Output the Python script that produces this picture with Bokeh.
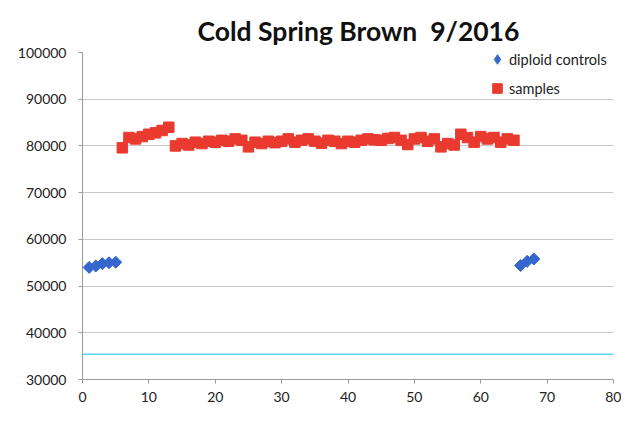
import math
from bokeh.plotting import figure
from bokeh.models import Legend, LegendItem, Span, FixedTicker, Range1d, Title
from bokeh.embed import file_html
from bokeh.resources import INLINE

# ---- data ----
control_x = [1, 2, 3, 4, 5, 66, 67, 68]
control_y = [54000, 54300, 54800, 55000, 55100, 54400, 55300, 55800]

sample_x = [6, 7, 8, 9, 10, 11, 12, 13, 14, 15,
            16, 17, 18, 19, 20, 21, 22, 23, 24, 25,
            26, 27, 28, 29, 30, 31, 32, 33, 34, 35,
            36, 37, 38, 39, 40, 41, 42, 43, 44, 45,
            46, 47, 48, 49, 50, 51, 52, 53, 54, 55,
            56, 57, 58, 59, 60, 61, 62, 63, 64, 65]
sample_y = [79600, 81800, 81500, 82000, 82500, 82800, 83300, 84000, 80000, 80500,
            80200, 80800, 80500, 81000, 80800, 81200, 81000, 81500, 81200, 79800,
            80800, 80500, 81000, 80700, 81000, 81500, 80800, 81200, 81500, 81000,
            80600, 81200, 81000, 80500, 81000, 80800, 81200, 81500, 81300, 81200,
            81600, 81800, 81200, 80300, 81500, 81800, 81000, 81500, 79800, 80500,
            80200, 82500, 81800, 80800, 82000, 81500, 81800, 80800, 81500, 81200]

title_text = "Cold Spring Brown \u00a09/2016"
x_ticks = [0, 10, 20, 30, 40, 50, 60, 70, 80]
y_ticks = [30000, 40000, 50000, 60000, 70000, 80000, 90000, 100000]

BLUE = "#3567cf"
RED = "#ea3a2f"
FONT = "Lato"

p = figure(width=621, height=418, output_backend="svg", toolbar_location=None,
           x_range=Range1d(0, 80), y_range=Range1d(30000, 100000),
           min_border_left=82, min_border_right=8, min_border_top=52, min_border_bottom=39,
           title=None)
p.outline_line_color = None
p.background_fill_color = "white"
p.border_fill_color = "white"

# title
t = Title(text=title_text, align="left", offset=115, standoff=12,
          text_font=FONT, text_font_style="bold", text_font_size="26.5px",
          text_color="#111111")
p.add_layout(t, "above")

# axes
for ax in (p.xaxis[0], p.yaxis[0]):
    ax.axis_line_color = "#9a9a9a"
    ax.major_tick_line_color = "#9a9a9a"
    ax.minor_tick_line_color = None
    ax.major_label_text_font = FONT
    ax.major_label_text_font_size = "14px"
    ax.major_label_text_color = "#222222"
    ax.major_tick_in = 0
    ax.major_tick_out = 4
p.xaxis[0].ticker = FixedTicker(ticks=x_ticks)
p.yaxis[0].ticker = FixedTicker(ticks=y_ticks)
p.xaxis[0].major_label_standoff = 8
p.yaxis[0].major_label_standoff = 12
p.yaxis[0].formatter.use_scientific = False

p.xgrid.grid_line_color = None
p.ygrid.grid_line_color = "#c8c8c8"
p.ygrid.ticker = FixedTicker(ticks=y_ticks)

# scan artifact line
p.add_layout(Span(location=35400, dimension="width", line_color="#5cd3f0", line_width=1.5))

# diamond key renderer (drawn underneath, used for the legend glyph)
r_ctrl_key = p.scatter(control_x, control_y, marker="diamond", size=10, color=BLUE)
r_ctrl = p.scatter(control_x, control_y, marker="square", angle=math.pi / 4,
                   size=8.5, color=BLUE)
r_samp = p.scatter(sample_x, sample_y, marker="square", size=10.5, color=RED)

legend = Legend(items=[LegendItem(label="diploid controls", renderers=[r_ctrl_key]),
                       LegendItem(label="samples", renderers=[r_samp])],
                location=(403, 279))
legend.border_line_color = None
legend.background_fill_alpha = 0
legend.padding = 0
legend.margin = 0
legend.spacing = 5
legend.glyph_width = 24
legend.glyph_height = 24
legend.label_height = 24
legend.label_standoff = 0
legend.label_text_font = FONT
legend.label_text_font_size = "14.5px"
legend.label_text_color = "#222222"
p.add_layout(legend, "center")

open("out.html", "w").write(file_html(p, INLINE))
